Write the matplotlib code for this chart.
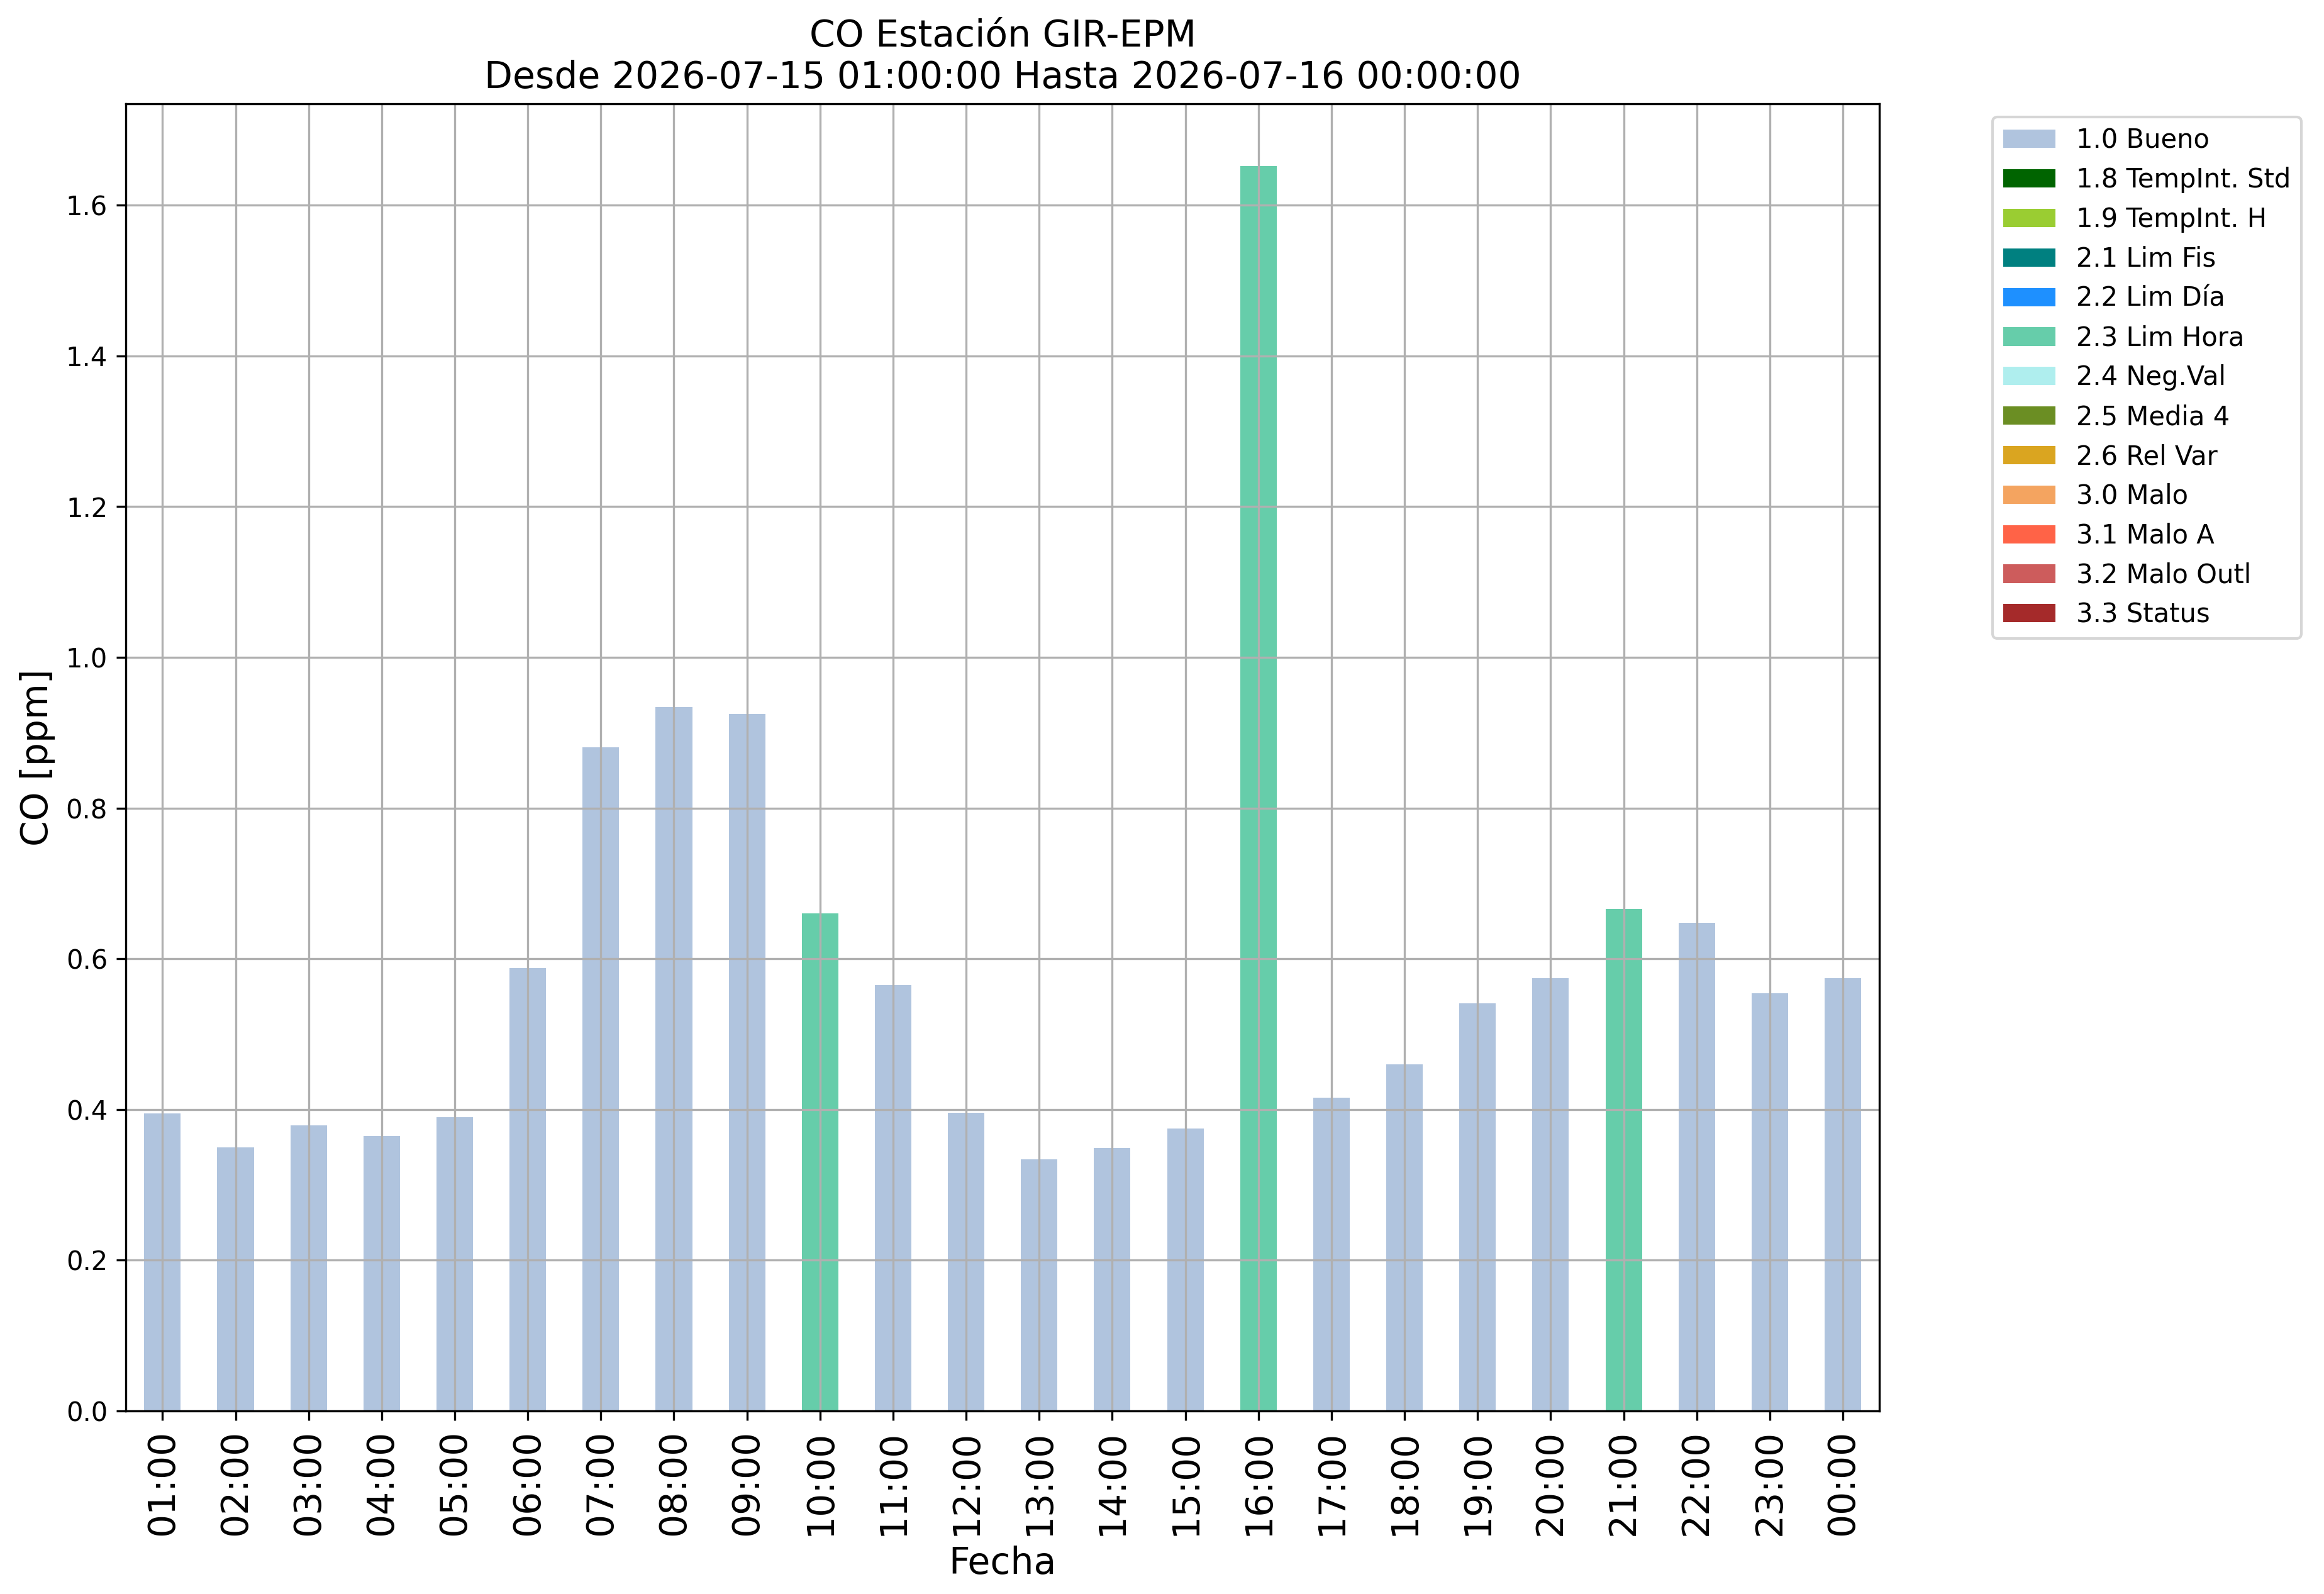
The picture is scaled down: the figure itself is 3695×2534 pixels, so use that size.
import numpy as np
import matplotlib
matplotlib.use("Agg")
import matplotlib.pyplot as plt


horas = ["01:00", "02:00", "03:00", "04:00", "05:00", "06:00", "07:00", "08:00",
         "09:00", "10:00", "11:00", "12:00", "13:00", "14:00", "15:00", "16:00",
         "17:00", "18:00", "19:00", "20:00", "21:00", "22:00", "23:00", "00:00"]
co = [0.395, 0.350, 0.379, 0.365, 0.390, 0.588, 0.881, 0.934,
      0.925, 0.660, 0.565, 0.396, 0.334, 0.349, 0.375, 1.652,
      0.416, 0.460, 0.541, 0.574, 0.666, 0.648, 0.554, 0.574]
flags = ["1.0 Bueno"] * 24
flags[9] = "2.3 Lim Hora"
flags[15] = "2.3 Lim Hora"
flags[20] = "2.3 Lim Hora"

categorias = ["1.0 Bueno", "1.8 TempInt. Std", "1.9 TempInt. H", "2.1 Lim Fis",
              "2.2 Lim Día", "2.3 Lim Hora", "2.4 Neg.Val", "2.5 Media 4",
              "2.6 Rel Var", "3.0 Malo", "3.1 Malo A", "3.2 Malo Outl", "3.3 Status"]
colores = ["lightsteelblue", "darkgreen", "yellowgreen", "teal", "dodgerblue",
           "mediumaquamarine", "paleturquoise", "olivedrab", "goldenrod",
           "sandybrown", "tomato", "indianred", "brown"]


def main():
    fig = plt.figure(figsize=(3695 / 300, 2534 / 300), dpi=300)
    ax = fig.add_axes([0.0542, 0.1148, 0.8087 - 0.0542, 0.9349 - 0.1148])

    x = np.arange(len(horas))
    base = np.zeros(len(horas))
    for cat, col in zip(categorias, colores):
        vals = np.array([v if f == cat else 0.0 for v, f in zip(co, flags)])
        ax.bar(x, vals, width=0.5, bottom=base, color=col, label=cat)
        base += vals

    ax.set_xlim(-0.5, len(horas) - 0.5)
    ax.set_ylim(0, max(co) * 1.05)
    ax.set_xticks(x)
    ax.set_xticklabels(horas, rotation=90, fontsize=14)
    ax.grid(True)

    ax.set_title("CO Estación GIR-EPM\nDesde 2026-07-15 01:00:00 Hasta 2026-07-16 00:00:00",
                 fontsize=14)
    ax.set_xlabel("Fecha", fontsize=14)
    ax.set_ylabel("CO [ppm]", fontsize=14)
    ax.legend(loc="upper left", bbox_to_anchor=(1.057, 1))

    fig.savefig("out.png", dpi=300)


if __name__ == "__main__":
    main()
